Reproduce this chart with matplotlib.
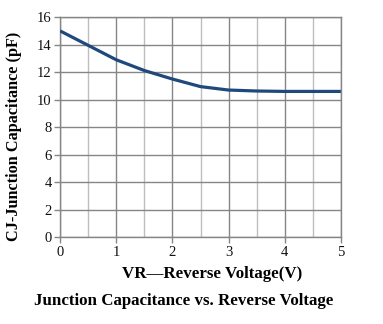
import matplotlib
matplotlib.use('Agg')
import matplotlib.pyplot as plt

# reverse voltage (V) and junction capacitance (pF)
voltage = [0, 0.5, 1, 1.5, 2, 2.5, 3, 3.5, 4, 4.5, 5]
capacitance = [15.0, 13.95, 12.9, 12.12, 11.5, 10.95, 10.7, 10.63, 10.6, 10.6, 10.6]

x_ticks = [0, 1, 2, 3, 4, 5]
y_ticks = [0, 2, 4, 6, 8, 10, 12, 14, 16]

plt.rcParams['font.family'] = ['Liberation Serif', 'DejaVu Serif']

fig = plt.figure(figsize=(3.83, 3.24), dpi=100)
ax = fig.add_axes([0.157, 0.268, 0.733, 0.679])

ax.plot(voltage, capacitance, color='#1F497D', linewidth=2.3,
        solid_capstyle='butt', zorder=3)

ax.set_xlim(0, 5)
ax.set_ylim(0, 16)
ax.set_xticks(x_ticks)
ax.set_yticks(y_ticks)
ax.set_xticks([0.5, 1.5, 2.5, 3.5, 4.5], minor=True)

# grid: darker at integers, lighter at half volts
ax.grid(True, which='major', color='#868686', linewidth=1.0, zorder=1)
ax.grid(True, which='minor', axis='x', color='#BEBEBE', linewidth=1.0, zorder=1)
ax.tick_params(which='minor', length=0)
ax.tick_params(which='major', length=4, width=1.0, color='#868686',
               labelsize=10.5, labelcolor='#111111', pad=2)
for side in ax.spines.values():
    side.set_color('#868686')
    side.set_linewidth(1.0)

# axis titles and caption
fig.text(14 / 383, 1 - 136 / 324, 'CJ-Junction Capacitance (pF)', rotation=90,
         ha='center', va='center', fontsize=11.7, fontweight='bold')
fig.text(212 / 383, 1 - 274 / 324, 'VR\u2014Reverse Voltage(V)',
         ha='center', va='center', fontsize=12.2, fontweight='bold')
fig.text(184 / 383, 1 - 301 / 324, 'Junction Capacitance vs. Reverse Voltage',
         ha='center', va='center', fontsize=12.2, fontweight='bold')

fig.savefig('out.png', dpi=100)
